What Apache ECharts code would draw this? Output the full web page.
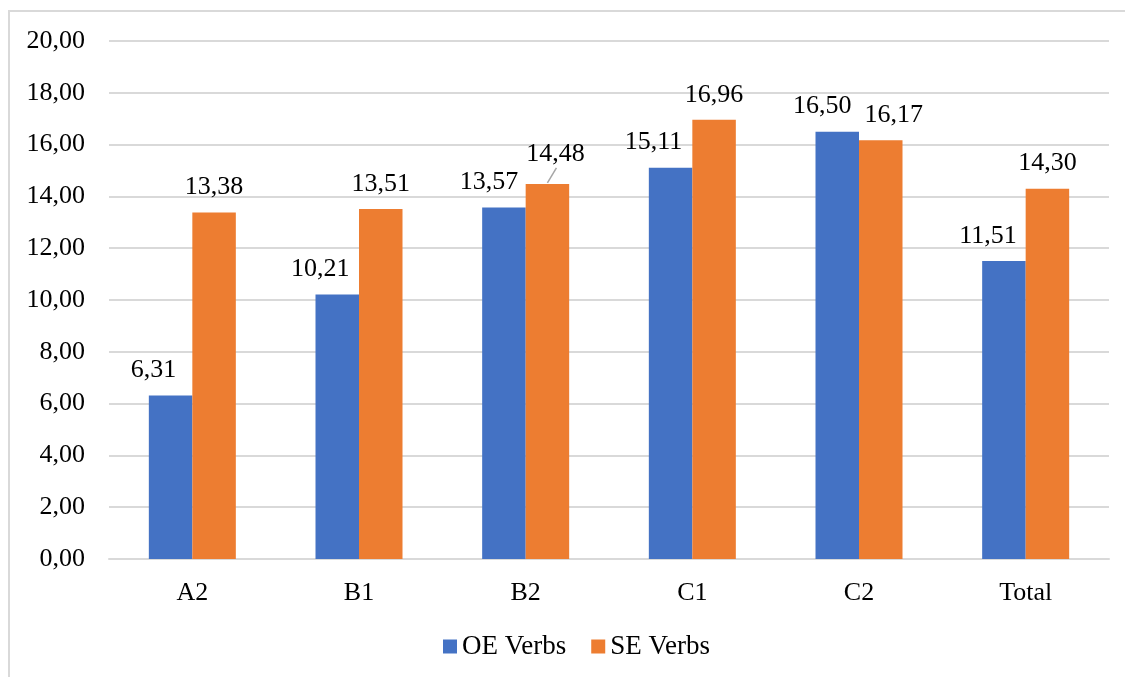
<!DOCTYPE html>
<html>
<head>
<meta charset="utf-8">
<title>OE vs SE Verbs</title>
<script src="https://cdn.jsdelivr.net/npm/echarts@6/dist/echarts.min.js"></script>
<style>
  html, body { margin: 0; padding: 0; background: #fff; }
  #chart { width: 1125px; height: 677px; }
</style>
</head>
<body>
<div id="chart"></div>
<script>
// Proficiency levels on the category axis
const levels = ['A2', 'B1', 'B2', 'C1', 'C2', 'Total'];
// Mean values per level
const oeVerbs = [6.31, 10.21, 13.57, 15.11, 16.50, 11.51];
const seVerbs = [13.38, 13.51, 14.48, 16.96, 16.17, 14.30];
// Value axis range
const yMin = 0;
const yMax = 20;
const yStep = 2;

const FONT = '"Liberation Serif", "Times New Roman", serif';
const FS = 26;
const BAR_W = 43.5;
const fmt = v => v.toFixed(2).replace('.', ',');

// Per-label nudges so neighbouring labels do not collide
const oeOffsets = [[-17, 0], [-17, 0], [-15, 0], [-17, 0], [-15, 0], [-16, 0]];
const seOffsets = [[0, 0], [0, 0], [8, -5], [0, 0], [13, 0], [0, 0]];
// SE label that is lifted off its bar and tied back with a leader line
const leaderIndex = 2;

const chart = echarts.init(document.getElementById('chart'), null, { renderer: 'canvas' });

const labelBase = {
  show: true,
  position: 'top',
  distance: 12,
  fontFamily: FONT,
  fontSize: FS,
  color: '#000',
  formatter: p => fmt(p.value)
};

chart.setOption({
  animation: false,
  backgroundColor: '#fff',
  textStyle: { fontFamily: FONT },
  graphic: [{
    type: 'rect',
    shape: { x: 9, y: 11, width: 1200, height: 700 },
    style: { fill: 'none', stroke: '#d9d9d9', lineWidth: 2 },
    silent: true,
    z: -1
  }],
  grid: { left: 109, right: 16, top: 41, bottom: 118, containLabel: false },
  legend: {
    left: 438,
    top: 628,
    itemWidth: 14,
    itemHeight: 14,
    itemGap: 25,
    icon: 'rect',
    textStyle: { fontFamily: FONT, fontSize: 27, color: '#000' },
    data: ['OE Verbs', 'SE Verbs']
  },
  xAxis: {
    type: 'category',
    data: levels,
    axisLine: { lineStyle: { color: '#d9d9d9', width: 2 } },
    axisTick: { show: false },
    axisLabel: { fontFamily: FONT, fontSize: FS, color: '#000', margin: 21 }
  },
  yAxis: {
    type: 'value',
    min: yMin,
    max: yMax,
    interval: yStep,
    axisLine: { show: false },
    axisTick: { show: false },
    splitLine: { lineStyle: { color: '#d9d9d9', width: 2 } },
    axisLabel: { fontFamily: FONT, fontSize: FS, color: '#000', margin: 24, formatter: v => fmt(v) }
  },
  series: [
    {
      name: 'OE Verbs',
      type: 'bar',
      barWidth: BAR_W,
      barGap: '0%',
      itemStyle: { color: '#4472C4' },
      data: oeVerbs.map((v, i) => ({ value: v, label: { offset: oeOffsets[i] } })),
      label: labelBase
    },
    {
      name: 'SE Verbs',
      type: 'bar',
      barWidth: BAR_W,
      barGap: '0%',
      itemStyle: { color: '#ED7D31' },
      data: seVerbs.map((v, i) => ({ value: v, label: { offset: seOffsets[i] } })),
      label: labelBase
    },
    {
      // leader line from the top of the SE bar up to its lifted label
      name: 'leader',
      type: 'custom',
      silent: true,
      z: 5,
      data: [[leaderIndex, seVerbs[leaderIndex]]],
      renderItem: (params, api) => {
        const top = api.coord([api.value(0), api.value(1)]);
        const x0 = top[0] + BAR_W / 2;
        const y0 = top[1] - 1;
        return {
          type: 'line',
          shape: { x1: x0, y1: y0, x2: x0 + 9, y2: y0 - 15 },
          style: { stroke: '#a6a6a6', lineWidth: 1.5 }
        };
      }
    }
  ]
});
</script>
</body>
</html>
